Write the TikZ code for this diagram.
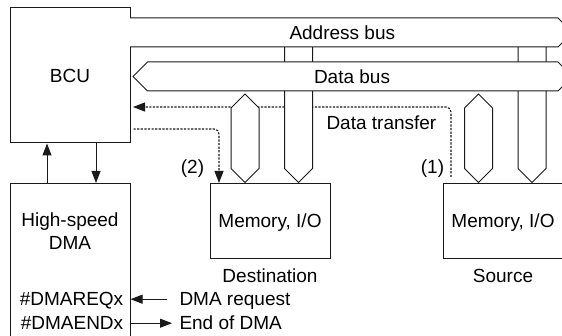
\documentclass[tikz,border=0pt]{standalone}
\usepackage{fontspec}
\setmainfont{Liberation Sans}
\usetikzlibrary{arrows.meta, positioning}
\definecolor{inkline}{HTML}{1A1A1A}

\begin{document}
\begin{tikzpicture}[x=1pt, y=-1pt, line width=1pt, draw=inkline,
    font=\fontsize{19}{24}\selectfont,
    box/.style={draw=inkline, minimum width=120pt, inner sep=0pt,
                text height=13.6pt, text depth=0pt},
    lbl/.style={inner sep=2pt, text height=13.6pt, text depth=0pt},
    arr/.style={-{Triangle[length=12pt,width=9pt]}},
    xfer/.style={dash pattern=on 2.2pt off 1.4pt, line width=1.1pt,
                 rounded corners=5pt}]
  \useasboundingbox (0,0) rectangle (562,336);
  \clip (0,0) rectangle (562,336);

  \node[box, minimum height=135pt] (bcu) at (70,75.5) {BCU};
  \node[box, minimum height=170pt, anchor=north] (dma) at (70,183) {};
  \node[box, minimum height=75pt, anchor=north] (dst) at (270,183) {Memory, I/O};
  \node[box, minimum height=75pt, anchor=north] (src) at (503,183) {Memory, I/O};

  \node[anchor=base] (hs) at (70,227) {High-speed};
  \node[anchor=base] (dmalbl) at (70,250) {DMA};
  \node[lbl, anchor=base] (req) at (71.5,306) {\#DMAREQx};
  \node[lbl, anchor=base] (fin) at (72,330) {\#DMAENDx};
  \node[lbl, anchor=base west] (reqtxt) at (177,306) {DMA request};
  \node[lbl, anchor=base west] (fintxt) at (177,330) {End of DMA};
  \node[lbl, below=7pt of dst] (dstlbl) {Destination};
  \node[lbl, below=7pt of src] (srclbl) {Source};

  \draw[arr] ([xshift=-23pt]dma.north) -- ([xshift=-23pt]bcu.south);
  \draw[arr] ([xshift=26pt]bcu.south) -- ([xshift=26pt]dma.north);
  \draw[arr] ([xshift=-10pt]reqtxt.west) -- (reqtxt.west -| dma.east);
  \draw[arr] (fintxt.west -| dma.east) -- ([xshift=-5pt]fintxt.west);

  \coordinate (srcend) at (451,177);
  \draw[xfer, arr, shorten >=2.5pt] (srcend) |- ([yshift=-31.5pt]bcu.east);
  \draw[xfer, arr, shorten <=3pt] ([yshift=-53.5pt]bcu.east) -| ([xshift=-51pt]dst.north);

  \foreach \cx in {298.5,532}{%
    \draw[fill=white] (\cx-14,47) -- (\cx-14,168.5) -- (\cx,182.5)
      -- (\cx+14,168.5) -- (\cx+14,47);}
  \draw[fill=white] (130,18) -- (558,18) -- (572.5,32.5) -- (558,47) -- (130,47);
  \draw[fill=white] (133,76.5) -- (147.5,62) -- (558,62) -- (572.5,76.5)
    -- (558,91) -- (147.5,91) -- cycle;
  \foreach \cx in {245,478.5}{%
    \draw[fill=white] (\cx,94) -- (\cx+14,108) -- (\cx+14,168.5) -- (\cx,182.5)
      -- (\cx-14,168.5) -- (\cx-14,108) -- cycle;}

  \node[lbl, anchor=base west] (abus) at (287,40) {Address bus};
  \node[lbl, anchor=base west] (dbus) at (311.5,84) {Data bus};
  \node[lbl, anchor=base west] (xferlbl) at (324,130) {Data transfer};
  \node[lbl, anchor=base] (one) at (432.5,174) {(1)};
  \node[lbl, anchor=base] (two) at (192.5,174) {(2)};
\end{tikzpicture}
\end{document}
